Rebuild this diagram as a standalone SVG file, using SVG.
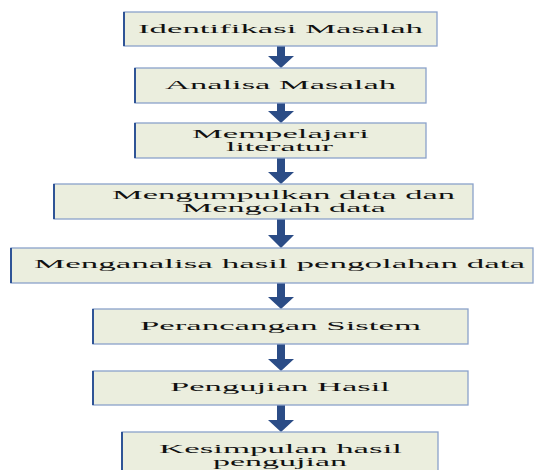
<svg xmlns="http://www.w3.org/2000/svg" width="539" height="470" viewBox="0 0 539 470">
<style>
.box{fill:#EBEEDE;stroke:#8AA2CA;stroke-width:1.3}
.edge{stroke:#2F5496;stroke-width:2}
.t{font-family:"Liberation Serif","Times New Roman",serif;font-size:12.5px;fill:#111}
.arr{fill:#2B4C86}
</style>
<rect width="539" height="470" fill="#ffffff"/>
<g id="connectors">
<path class="arr" d="M277,46H285V56H294L281,68L268,56H277Z"/>
<path class="arr" d="M277,103H285V111H294L281,123L268,111H277Z"/>
<path class="arr" d="M277,158H285V172H294L281,184L268,172H277Z"/>
<path class="arr" d="M277,219H285V235H294L281,248L268,235H277Z"/>
<path class="arr" d="M277,283H285V297H294L281,309L268,297H277Z"/>
<path class="arr" d="M277,344H285V359H294L281,371L268,359H277Z"/>
<path class="arr" d="M277,405H285V420H294L281,432L268,420H277Z"/>
</g>
<g id="n1">
<rect class="box" x="124" y="12" width="313" height="34"/>
<line class="edge" x1="124" y1="12" x2="124" y2="46"/>
<text class="t" x="138" y="33" textLength="285" lengthAdjust="spacingAndGlyphs">Identifikasi Masalah</text>
</g>
<g id="n2">
<rect class="box" x="135" y="68" width="291" height="35"/>
<line class="edge" x1="135" y1="68" x2="135" y2="103"/>
<text class="t" x="165" y="89" textLength="231" lengthAdjust="spacingAndGlyphs">Analisa Masalah</text>
</g>
<g id="n3">
<rect class="box" x="135" y="123" width="291" height="35"/>
<line class="edge" x1="135" y1="123" x2="135" y2="158"/>
<text class="t" x="192" y="138" textLength="177" lengthAdjust="spacingAndGlyphs">Mempelajari</text>
<text class="t" x="226" y="150.5" textLength="107" lengthAdjust="spacingAndGlyphs">literatur</text>
</g>
<g id="n4">
<rect class="box" x="54" y="184" width="419" height="35"/>
<line class="edge" x1="54" y1="184" x2="54" y2="219"/>
<text class="t" x="112" y="199" textLength="343" lengthAdjust="spacingAndGlyphs">Mengumpulkan data dan</text>
<text class="t" x="182" y="212" textLength="204" lengthAdjust="spacingAndGlyphs">Mengolah data</text>
</g>
<g id="n5">
<rect class="box" x="11" y="248" width="522" height="35"/>
<line class="edge" x1="11" y1="248" x2="11" y2="283"/>
<text class="t" x="34" y="268" textLength="491" lengthAdjust="spacingAndGlyphs">Menganalisa hasil pengolahan data</text>
</g>
<g id="n6">
<rect class="box" x="93" y="309" width="375" height="35"/>
<line class="edge" x1="93" y1="309" x2="93" y2="344"/>
<text class="t" x="140" y="330" textLength="281" lengthAdjust="spacingAndGlyphs">Perancangan Sistem</text>
</g>
<g id="n7">
<rect class="box" x="93" y="371" width="375" height="34"/>
<line class="edge" x1="93" y1="371" x2="93" y2="405"/>
<text class="t" x="170" y="391" textLength="220" lengthAdjust="spacingAndGlyphs">Pengujian Hasil</text>
</g>
<g id="n8">
<rect class="box" x="122" y="432" width="316" height="50"/>
<line class="edge" x1="122" y1="432" x2="122" y2="482"/>
<text class="t" x="159" y="453" textLength="243" lengthAdjust="spacingAndGlyphs">Kesimpulan hasil</text>
<text class="t" x="213" y="466" textLength="134" lengthAdjust="spacingAndGlyphs">pengujian</text>
</g>
</svg>
